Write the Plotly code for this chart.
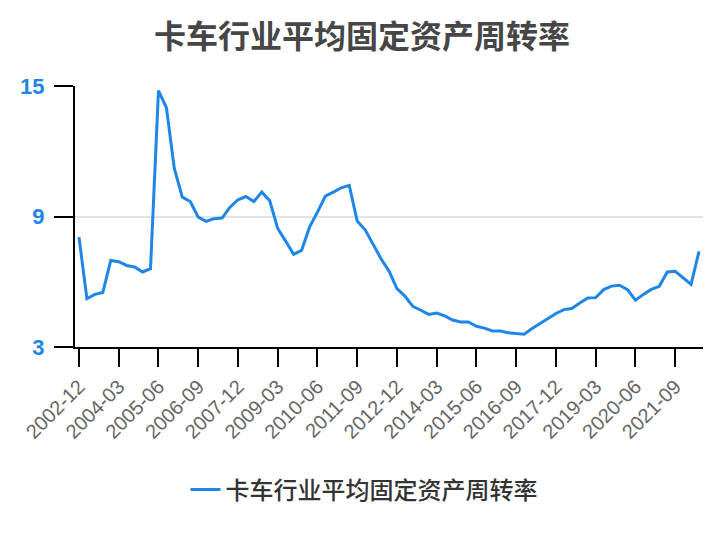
import plotly.graph_objects as go

# quarterly categories 2002-12 .. 2022-06
categories = []
y, mi = 2002, 3
months = ["03", "06", "09", "12"]
while True:
    categories.append(f"{y}-{months[mi]}")
    if y == 2022 and mi == 1:
        break
    mi += 1
    if mi == 4:
        mi = 0
        y += 1

values = [
    8.05, 5.22, 5.42, 5.51, 6.98, 6.92, 6.75, 6.68, 6.45, 6.60,
    14.79, 14.00, 11.20, 9.89, 9.69, 8.97, 8.78, 8.90, 8.93, 9.43,
    9.77, 9.92, 9.69, 10.12, 9.72, 8.45, 7.87, 7.26, 7.44, 8.51,
    9.20, 9.94, 10.12, 10.32, 10.43, 8.79, 8.39, 7.71, 7.06, 6.49,
    5.68, 5.34, 4.87, 4.69, 4.50, 4.56, 4.43, 4.24, 4.15, 4.15,
    3.95, 3.87, 3.74, 3.74, 3.66, 3.62, 3.59, 3.85, 4.08, 4.27,
    4.54, 4.72, 4.77, 5.02, 5.25, 5.27, 5.64, 5.80, 5.84, 5.64,
    5.15, 5.42, 5.65, 5.79, 6.45, 6.48, 6.19, 5.88, 7.40,
]

series_name = "卡车行业平均固定资产周转率"
title_text = "卡车行业平均固定资产周转率"
y_ticks = [3, 9, 15]
tick_step = 5

idx = list(range(len(categories)))
tickvals = idx[::tick_step]
ticktext = categories[::tick_step]

BLUE = "#1E86E6"
W, H = 724, 540
OFF = 8  # page body margin offset compensation

fig = go.Figure()
fig.add_trace(go.Scatter(
    x=idx, y=values, mode="lines", name=series_name,
    line=dict(color=BLUE, width=3),
))

fig.update_layout(
    width=W, height=H,
    margin=dict(l=75 - OFF, r=21 + OFF, t=86 - OFF, b=193 + OFF, autoexpand=False),
    plot_bgcolor="white", paper_bgcolor="white",
    font=dict(family="Noto Sans CJK SC, Liberation Sans, sans-serif"),
    title=dict(
        text=title_text, x=(362 - OFF) / W, xanchor="center",
        y=1 - (37 - OFF) / H, yref="container", yanchor="middle",
        font=dict(size=32, color="#464646", family="Noto Sans CJK SC", weight="bold"),
    ),
    showlegend=True,
    legend=dict(
        orientation="h", x=(364 - OFF) / W, xanchor="center", xref="container",
        y=1 - (490 - OFF) / H, yanchor="middle", yref="container",
        itemwidth=30,
        font=dict(size=24, color="#333333", family="Noto Sans CJK SC", weight=500),
    ),
    xaxis=dict(
        range=[-0.5, len(categories) - 0.5],
        tickmode="array", tickvals=tickvals, ticktext=ticktext,
        tickangle=-45, ticks="outside", ticklen=18, tickwidth=2, tickcolor="black",
        showline=True, linecolor="black", linewidth=2,
        showgrid=False, zeroline=False, automargin=False,
        tickfont=dict(size=20, color="#666666", family="Liberation Sans"),
    ),
    yaxis=dict(
        range=[3, 15], tickmode="array", tickvals=y_ticks,
        ticks="outside", ticklen=19, tickwidth=2, tickcolor="black",
        showline=True, linecolor="black", linewidth=2,
        showgrid=True, gridcolor="#E3E3E3", gridwidth=2, zeroline=False,
        automargin=False,
        tickfont=dict(size=22, color=BLUE, family="Liberation Sans", weight="bold"),
        ticklabelstandoff=5,
    ),
)

fig.write_html("out.html")
